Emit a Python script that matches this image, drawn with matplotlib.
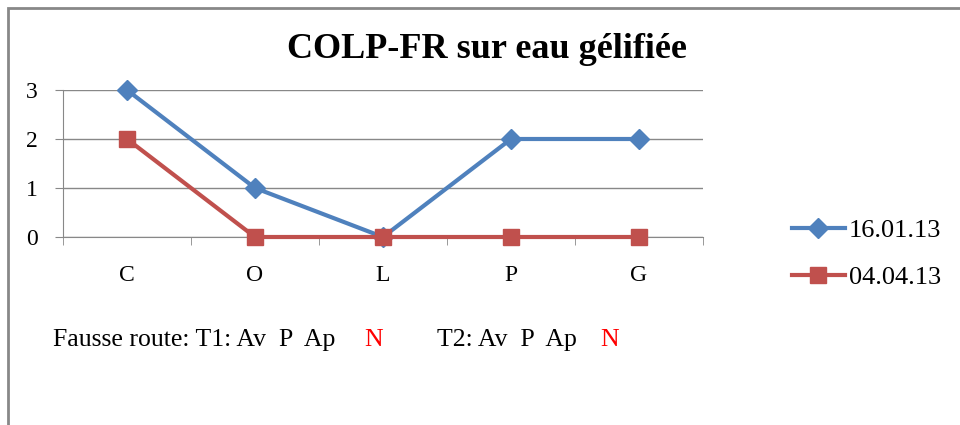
import matplotlib.pyplot as plt
from matplotlib.patches import Rectangle

categories = ['C', 'O', 'L', 'P', 'G']
serie_1 = [3, 1, 0, 2, 2]
serie_2 = [2, 0, 0, 0, 0]
labels = ['16.01.13', '04.04.13']
y_ticks = [0, 1, 2, 3]

plt.rcParams['font.family'] = ['Liberation Serif', 'DejaVu Serif']

W, H = 960, 425
fig = plt.figure(figsize=(W / 100, H / 100), dpi=100)

# cadre gris autour du graphique
fig.patches.append(Rectangle((8 / W, -0.1), 1.2, (H - 8) / H + 0.1, transform=fig.transFigure,
                             fill=False, edgecolor='#888888', linewidth=2))

ax = fig.add_axes([63 / W, 1 - 237 / H, 640 / W, 147 / H])
x = list(range(len(categories)))
ax.plot(x, serie_1, color='#4F81BD', lw=3, marker='D', ms=10, label=labels[0],
        zorder=3, clip_on=False)
ax.plot(x, serie_2, color='#C0504D', lw=3, marker='s', ms=12, label=labels[1],
        zorder=3, clip_on=False)

ax.set_xlim(-0.5, len(categories) - 0.5)
ax.set_ylim(0, 3)
ax.set_yticks(y_ticks)
ax.set_xticks(x)
ax.set_xticklabels(categories)
ax.set_xticks([i - 0.5 for i in range(len(categories) + 1)], minor=True)
ax.tick_params(axis='x', which='major', length=0, pad=20, labelsize=17)
ax.tick_params(axis='x', which='minor', length=6, color='#888888', direction='out')
ax.tick_params(axis='y', length=6, color='#888888', pad=12, labelsize=17)
ax.grid(axis='y', color='#888888', lw=1)
ax.set_axisbelow(True)
for s in ['top', 'right']:
    ax.spines[s].set_visible(False)
for s in ['left', 'bottom']:
    ax.spines[s].set_color('#888888')

fig.text(487 / W, 1 - 50 / H, 'COLP-FR sur eau gélifiée', ha='center', va='center',
         fontsize=26, fontweight='bold')

fig.legend(loc='center left', bbox_to_anchor=(792 / W, 1 - 254 / H), frameon=False,
           borderaxespad=0, borderpad=0, fontsize=19, handlelength=2.0,
           labelspacing=0.9, handletextpad=0.15)

ty = 1 - 340 / H
fig.text(53 / W, ty, 'Fausse route: T1: Av  P  Ap', va='center', fontsize=18.5)
fig.text(364 / W, ty, 'N', va='center', fontsize=18.5, color='red')
fig.text(437 / W, ty, 'T2: Av  P  Ap', va='center', fontsize=18.5)
fig.text(600 / W, ty, 'N', va='center', fontsize=18.5, color='red')

fig.savefig('out.png', dpi=100)
